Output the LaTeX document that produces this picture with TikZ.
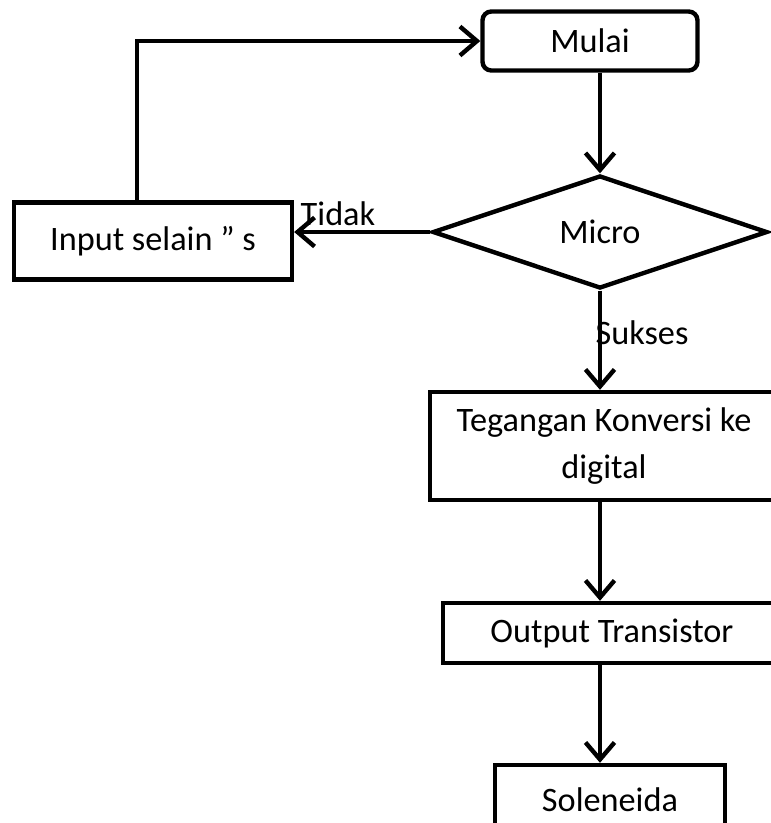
\documentclass[tikz,border=0pt]{standalone}
\usepackage{fontspec}
\setmainfont{Carlito}
\usetikzlibrary{positioning,arrows.meta,shapes.geometric}
\tikzset{
  flowarrow/.style={-{Straight Barb[length=3.4mm, width=5.8mm]}, line width=2.5pt},
  startbox/.style={draw, rounded corners=5pt, line width=2.5pt, minimum width=4.3cm, minimum height=1.18cm, align=center},
  decision/.style={draw, diamond, line width=2.5pt, minimum width=6.7cm, minimum height=2.26cm, inner sep=0pt, align=center},
  procbox/.style={draw, line width=2.5pt, inner sep=0pt, align=center},
  relabel/.style={inner sep=1pt}
}

\begin{document}
\begin{tikzpicture}[x=0.02cm, y=-0.02cm, every node/.style={font=\fontsize{19.5}{23}\selectfont}]
  \useasboundingbox (0,0) rectangle (771,823);
  \clip (0,0) rectangle (771,823);

  \node[startbox] (mulai) at (590,41) {Mulai};
  \node[decision] (micro) at (600,232) {Micro};
  \node[procbox, minimum width=5.56cm, minimum height=1.54cm] (input) at (153,241) {Input selain '' s};
  \node[procbox, minimum width=6.96cm, minimum height=2.16cm, font=\fontsize{19.5}{27}\selectfont] (konversi) at (604,446) {Tegangan Konversi ke\\digital};
  \node[procbox, minimum width=6.76cm, minimum height=1.2cm] (output) at (612,633) {Output Transistor};
  \node[procbox, minimum width=4.6cm, minimum height=1.4cm] (solenoida) at (610,800) {Soleneida};

  \node[relabel] (tidak) at (338,214) {Tidak};
  \node[relabel] (sukses) at (642,333) {Sukses};

  \coordinate (balik) at (137,41);
  \draw[flowarrow] (mulai.south -| micro.north) -- (micro.north);
  \draw[flowarrow] (micro.west) -- (micro.west -| input.east);
  \draw[flowarrow] (input.north -| balik) -- (balik) -- (mulai.west);
  \draw[flowarrow] (micro.south) -- (micro.south |- konversi.north);
  \draw[flowarrow] (konversi.south -| micro.south) -- (micro.south |- output.north);
  \draw[flowarrow] (output.south -| micro.south) -- (micro.south |- solenoida.north);
\end{tikzpicture}
\end{document}
